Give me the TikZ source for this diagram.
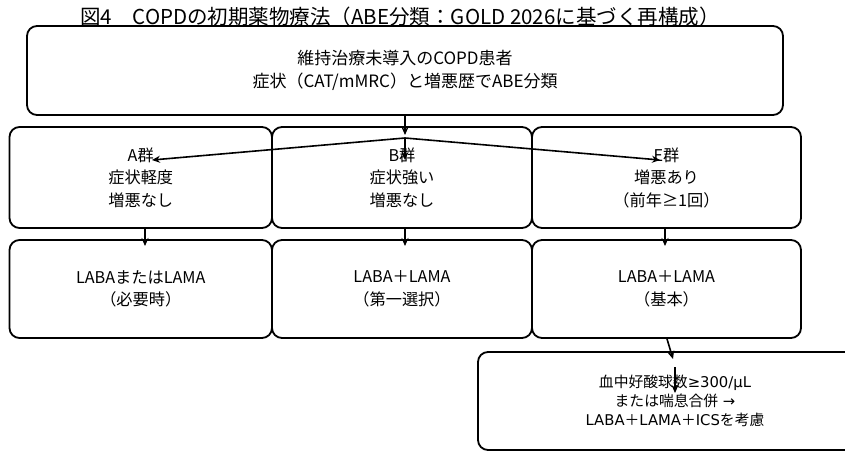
\documentclass[tikz,border=0pt]{standalone}
\usepackage{fontspec}
\setmainfont{Noto Sans CJK JP}
\newfontfamily\dv{DejaVu Sans}
\usetikzlibrary{arrows.meta}
\begin{document}
\begin{tikzpicture}[x=1pt,y=-1pt,
  box/.style={draw, line width=1.8pt, rounded corners=10pt, inner sep=0pt, align=center,
    font=\fontsize{16.2}{22.5}\selectfont},
  topbox/.style={box, font=\fontsize{17}{23}\selectfont},
  lastbox/.style={box, font=\fontsize{14.8}{19}\selectfont},
  arr/.style={-{Stealth[length=8pt,width=7pt]}, line width=1.6pt}]
\useasboundingbox (0,0) rectangle (845,452);
\node[font=\fontsize{20.5}{24}\selectfont] (title) at (400,17) {図4　COPDの初期薬物療法（ABE分類：GOLD 2026に基づく再構成）};
\node[topbox, minimum width=756pt, minimum height=89pt] (top) at (405,70.5) {維持治療未導入のCOPD患者\\症状（CAT/mMRC）と増悪歴でABE分類};
\node[box, minimum width=262.5pt, minimum height=101pt] (A) at (140.75,177.5) {A群\\症状軽度\\増悪なし};
\node[box, minimum width=260pt, minimum height=101pt] (B) at (402,177.5) {B群\\症状強い\\増悪なし};
\node[box, minimum width=269pt, minimum height=101pt] (E) at (666.5,177.5) {E群\\増悪あり\\（前年≥1回）};
\node[box, minimum width=262.5pt, minimum height=98pt] (A3) at (140.75,289) {LABAまたはLAMA\\（必要時）};
\node[box, minimum width=260pt, minimum height=98pt] (B3) at (402,289) {LABA＋LAMA\\（第一選択）};
\node[box, minimum width=269pt, minimum height=98pt] (E3) at (666.5,289) {LABA＋LAMA\\（基本）};
\node[lastbox, minimum width=394pt, minimum height=98pt] (L) at (675,401) {血中好酸球数{\dv ≥300/μL}\\または喘息合併{\dv\ →}\\{\dv LABA}＋{\dv LAMA}＋{\dv ICS}を考慮};
\coordinate (topend) at (405,135);
\coordinate (fan) at (405,138);
\coordinate (tA) at (152,160);
\coordinate (tB) at (405,160);
\coordinate (tE) at (660,160);
\coordinate (a3) at (145,246);
\coordinate (b3) at (405,246);
\coordinate (e3) at (665,246);
\coordinate (es) at (667,338);
\coordinate (ls) at (673,359);
\coordinate (ms) at (675,367);
\coordinate (me) at (675,393);
\draw[arr] (top.south -| topend) -- (topend);
\draw[arr] (fan) -- (tA);
\draw[arr] (fan) -- (tB);
\draw[arr] (fan) -- (tE);
\draw[arr] (A.south -| a3) -- (a3);
\draw[arr] (B.south -| b3) -- (b3);
\draw[arr] (E.south -| e3) -- (e3);
\draw[arr] (E3.south -| es) -- (ls);
\draw[arr] (ms) -- (me);
\end{tikzpicture}
\end{document}
